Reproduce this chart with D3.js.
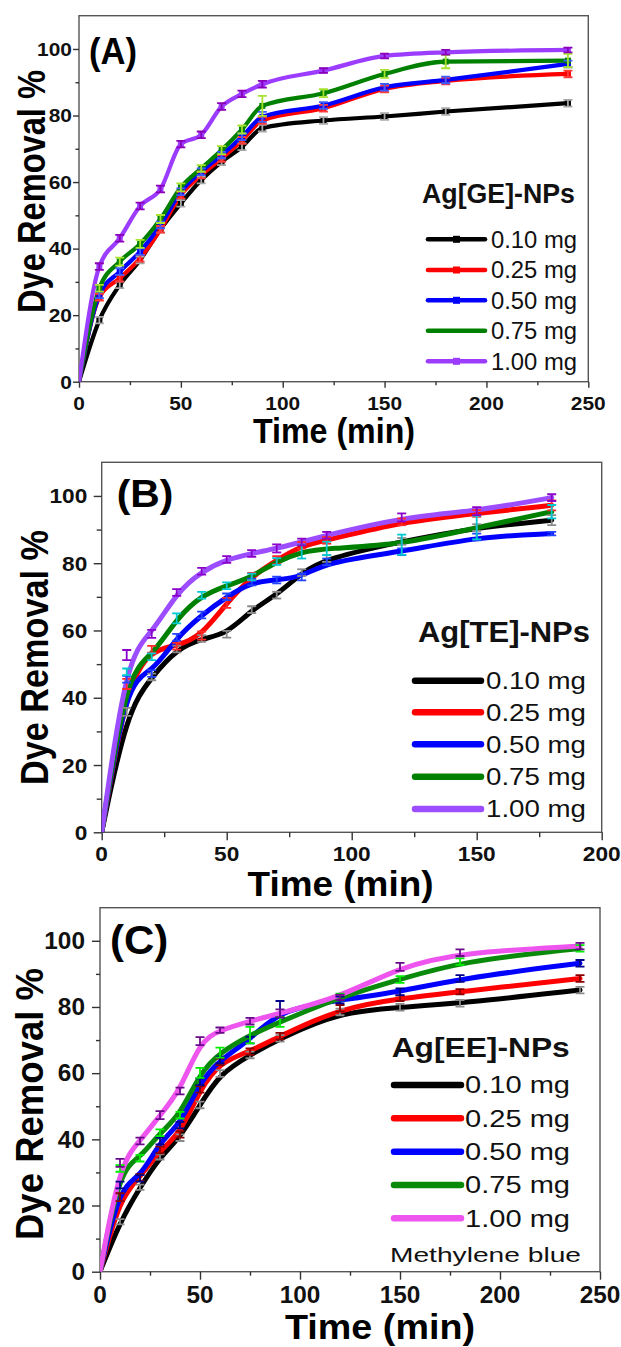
<!DOCTYPE html>
<html><head><meta charset="utf-8">
<script src="https://cdn.jsdelivr.net/npm/d3@7"></script>
<style>body{margin:0;background:#fff} svg{display:block} text{font-family:"Liberation Sans",Arial,sans-serif}</style>
</head><body><svg id="c" width="621" height="1347"></svg>
<script>
// ---------------- DATA ----------------
const seriesLabels = ["0.10 mg", "0.25 mg", "0.50 mg", "0.75 mg", "1.00 mg"];
const legendTitles = ["Ag[GE]-NPs", "Ag[TE]-NPs", "Ag[EE]-NPs"];
const panelLabels = ["(A)", "(B)", "(C)"];
const xTicksA = [0, 50, 100, 150, 200, 250];
const xTicksB = [0, 50, 100, 150, 200];
const xTicksC = [0, 50, 100, 150, 200, 250];
const yTicks = [0, 20, 40, 60, 80, 100];

// Panel A: Ag[GE]-NPs
const timeA = [0, 10, 20, 30, 40, 50, 60, 70, 80, 90, 120, 150, 180, 240];
const A010 = [0, 18.5, 29.1, 36.6, 45.8, 53.6, 60.6, 66.1, 70.6, 76.2, 78.5, 79.7, 81.2, 83.7];
const A025 = [0, 25.4, 31.1, 37.1, 45.8, 56.1, 62.1, 67.1, 72.5, 78.5, 82.2, 88.0, 90.4, 92.5];
const A050 = [0, 26.1, 33.1, 39.1, 47.1, 57.1, 63.1, 68.1, 73.6, 79.6, 83.0, 88.5, 90.7, 95.5];
const A075 = [0, 28.1, 36.1, 41.4, 48.9, 58.4, 64.1, 69.6, 75.8, 82.9, 86.7, 92.5, 96.2, 96.5];
const A100 = [0, 34.6, 43.1, 52.8, 57.9, 71.4, 74.2, 82.7, 86.5, 89.4, 93.5, 97.9, 99.0, 99.7];
const errA010 = [0, 1, 1, 1, 1, 1, 1, 1, 1, 1, 1, 1, 1, 1];
const errA025 = [0, 1, 1, 1, 1, 1, 1, 1, 1, 1, 1, 1, 1, 1];
const errA050 = [0, 1, 1, 1, 1, 1, 1, 1, 1, 1.5, 1, 1, 1, 1];
const errA075 = [0, 1, 1.2, 1.2, 1.2, 1.2, 1, 1.2, 1.2, 3, 1.2, 1.2, 2, 2];
const errA100 = [0, 1, 1, 1, 1, 1, 1, 1, 1, 1, 0.7, 0.7, 0.7, 0.7];

// Panel B: Ag[TE]-NPs
const timeB = [0, 10, 20, 30, 40, 50, 60, 70, 80, 90, 120, 150, 180];
const B010 = [0, 35.8, 46.2, 54.5, 57.6, 58.9, 66.2, 70.5, 77.2, 81.4, 86.5, 90.6, 92.8];
const B025 = [0, 44.1, 54.4, 55.3, 58.5, 68.2, 76.1, 80.9, 85.3, 86.8, 92.3, 94.8, 97.2];
const B050 = [0, 45.5, 47.2, 58.0, 64.6, 70.0, 74.4, 75.0, 75.9, 80.4, 83.4, 87.8, 88.8];
const B075 = [0, 47.7, 52.2, 63.6, 70.5, 73.3, 75.9, 80.5, 83.4, 84.4, 85.5, 90.6, 95.3];
const B100 = [0, 52.7, 59.0, 71.3, 77.6, 81.1, 82.9, 84.4, 86.3, 88.3, 93.6, 95.5, 99.5];
const errB010 = [0, 1.2, 1, 1, 1, 1, 1, 1, 1, 1, 1, 1, 1.5];
const errB025 = [0, 1.5, 1, 1, 1.2, 1.5, 1, 1.2, 1, 1, 1, 1, 1.5];
const errB050 = [0, 1, 1, 1, 1, 1, 1, 1, 1, 1, 1, 1, 0.5];
const errB075 = [0, 1, 1, 1.5, 1, 1, 1, 1, 2, 2, 3, 3.5, 2];
const errB100 = [0, 1.5, 1.2, 1, 1, 1, 1, 1.2, 1, 1, 1.2, 1.2, 1];

// Panel C: Ag[EE]-NPs
const timeC = [0, 10, 20, 30, 40, 50, 60, 75, 90, 120, 150, 180, 240];
const C010 = [0, 15.1, 25.5, 34.7, 40.5, 50.4, 59.9, 65.5, 70.5, 78.5, 79.9, 81.1, 85.1];
const C025 = [0, 22.5, 28.5, 36.8, 41.5, 55.1, 63.4, 66.5, 71.2, 79.6, 82.6, 84.6, 88.6];
const C050 = [0, 26.2, 28.2, 39.5, 44.3, 57.4, 64.0, 70.0, 79.3, 82.1, 84.6, 88.6, 93.2];
const C075 = [0, 31.2, 34.3, 42.0, 47.3, 60.1, 66.2, 71.5, 75.5, 83.0, 88.3, 93.7, 97.7];
const C100 = [0, 32.9, 39.5, 47.3, 54.6, 69.7, 73.0, 75.7, 78.1, 82.9, 92.1, 96.4, 98.4];
const errC010 = [0, 0.8, 0.8, 0.8, 1, 1, 1, 1, 1, 1, 1, 1, 1];
const errC025 = [0, 1.2, 1, 1, 1, 1, 1, 1, 1, 1, 0.8, 0.8, 1];
const errC050 = [0, 1, 1, 1, 1, 1, 1, 1, 2.5, 1, 1, 1, 1];
const errC075 = [0, 1, 1, 1, 1, 1.5, 1.5, 2.5, 1.5, 1, 1, 1, 1];
const errC100 = [0, 1.2, 1, 1.2, 1, 1.2, 0.8, 1, 1.2, 0.8, 1.2, 1, 1];

// ---------------- STYLE / LAYOUT ----------------
const svg = d3.select("#c");

function stretch(sel, sx) {
  sel.each(function () {
    const w = this.getComputedTextLength();
    this.setAttribute("textLength", w * sx);
    this.setAttribute("lengthAdjust", "spacingAndGlyphs");
  });
}
function fixLen(sel, L) {
  sel.attr("textLength", L).attr("lengthAdjust", "spacingAndGlyphs");
}

const panels = [
  {
    time: timeA, series: [A010, A025, A050, A075, A100], errs: [errA010, errA025, errA050, errA075, errA100],
    xDomain: [0, 250], xTicks: xTicksA, xRange: [79, 588.3], yRange: [381.7, 15.7],
    lineColors: ["#000000", "#ff0000", "#0000ff", "#008000", "#9b3cff"],
    errColors: ["#a8a8a8", "#ff3b3b", "#3d5cff", "#a6e22e", "#8a00b8"],
    curve: d3.curveMonotoneX, lineW: 4.2, legW: 4.6, markers: true,
    tickFont: 19, tickSx: 1.1, majorTick: 6, minorTick: 3.5, yLabEnd: 72, xLabBase: 409.5,
    xTitle: { cx: 334, base: 443, size: 35, len: 162 },
    yTitle: { bx: 45, cy: 191.5, size: 38, len: 243 },
    plabel: { x: 89, base: 64, size: 37, len: 48 },
    leg: { title: { x: 422, base: 203, size: 28, len: 153 }, rows: [239.3, 270, 300.3, 330.7, 361.3],
      x1: 428, x2: 485, tx: 491, tsize: 23, tlen: 86, marker: true }
  },
  {
    time: timeB, series: [B010, B025, B050, B075, B100], errs: [errB010, errB025, errB050, errB075, errB100],
    xDomain: [0, 200], xTicks: xTicksB, xRange: [101.7, 601.7], yRange: [832.3, 462.3],
    lineColors: ["#000000", "#ff0000", "#0000ff", "#008000", "#9b4dff"],
    errColors: ["#8a8a8a", "#ff2a2a", "#2244ff", "#00c8d0", "#8a00c8"],
    curve: d3.curveBasis, lineW: 5, legW: 6.5, markers: false,
    tickFont: 21, tickSx: 1.08, majorTick: 8, minorTick: 5, yLabEnd: 87.3, xLabBase: 861,
    xTitle: { cx: 340.5, base: 896, size: 35, len: 186 },
    yTitle: { bx: 48.3, cy: 657.5, size: 38, len: 255 },
    plabel: { x: 116.7, base: 507, size: 39, len: 56.7 },
    leg: { title: { x: 418, base: 642, size: 29, len: 172 }, rows: [680.7, 712.3, 744.3, 776.7, 809],
      x1: 415, x2: 481, tx: 486, tsize: 23, tlen: 100, marker: false }
  },
  {
    time: timeC, series: [C010, C025, C050, C075, C100], errs: [errC010, errC025, errC050, errC075, errC100],
    xDomain: [0, 250], xTicks: xTicksC, xRange: [100, 600], yRange: [1271.7, 907.7],
    lineColors: ["#000000", "#ff0000", "#0000ff", "#0a8a0a", "#ee55ee"],
    errColors: ["#8a8a8a", "#8b0000", "#00008b", "#00ee00", "#6a0a8a"],
    curve: d3.curveBasis, lineW: 5, legW: 6.5, markers: false,
    tickFont: 23, tickSx: 1.06, majorTick: 8, minorTick: 4, yLabEnd: 85, xLabBase: 1303.3,
    xTitle: { cx: 380, base: 1339, size: 35, len: 190 },
    yTitle: { bx: 43.3, cy: 1104, size: 38, len: 272 },
    plabel: { x: 110, base: 954, size: 41, len: 58.3 },
    leg: { title: { x: 391.7, base: 1056.7, size: 28, len: 178 }, rows: [1085, 1118.3, 1151.7, 1185, 1218.3],
      x1: 394, x2: 461, tx: 465, tsize: 23, tlen: 105, marker: false },
    note: { text: "Methylene blue", x: 390, base: 1261.7, size: 21, len: 191 }
  }
];

panels.forEach((p, pi) => {
  const x = d3.scaleLinear().domain(p.xDomain).range(p.xRange);
  const y = d3.scaleLinear().domain([0, 110]).range(p.yRange);
  const g = svg.append("g");
  const [x0, x1] = p.xRange, [yb, yt] = p.yRange;

  // frame
  g.append("rect").attr("x", x0).attr("y", yt).attr("width", x1 - x0).attr("height", yb - yt)
    .attr("fill", "none").attr("stroke", "#555").attr("stroke-width", 1.4);

  // minor ticks
  const minorX = d3.range(p.xDomain[0] + 25, p.xDomain[1], 50);
  const minorY = d3.range(10, 110, 20);
  g.append("g").attr("transform", `translate(0,${yb})`)
    .call(d3.axisBottom(x).tickValues(minorX).tickSize(p.minorTick).tickFormat(""));
  g.append("g").attr("transform", `translate(${x0},0)`)
    .call(d3.axisLeft(y).tickValues(minorY).tickSize(p.minorTick).tickFormat(""));
  // major ticks
  g.append("g").attr("transform", `translate(0,${yb})`)
    .call(d3.axisBottom(x).tickValues(p.xTicks).tickSize(p.majorTick).tickFormat(""));
  g.append("g").attr("transform", `translate(${x0},0)`)
    .call(d3.axisLeft(y).tickValues(yTicks).tickSize(p.majorTick).tickFormat(""));
  g.selectAll(".domain").remove();
  g.selectAll(".tick line").attr("stroke", "#333").attr("stroke-width", 1.4);

  // tick labels
  const xl = g.append("g").selectAll("text").data(p.xTicks).join("text")
    .attr("x", d => x(d)).attr("y", p.xLabBase).attr("text-anchor", "middle")
    .attr("font-size", p.tickFont).attr("font-weight", "bold").attr("fill", "#111")
    .text(d => d);
  stretch(xl, p.tickSx);
  const yl = g.append("g").selectAll("text").data(yTicks).join("text")
    .attr("x", p.yLabEnd).attr("y", d => y(d) + p.tickFont * 0.358).attr("text-anchor", "end")
    .attr("font-size", p.tickFont).attr("font-weight", "bold").attr("fill", "#111")
    .text(d => d);
  stretch(yl, p.tickSx);

  // axis titles
  const xt = g.append("text").attr("x", p.xTitle.cx).attr("y", p.xTitle.base).attr("text-anchor", "middle")
    .attr("font-size", p.xTitle.size).attr("font-weight", "bold").attr("fill", "#000").text("Time (min)");
  fixLen(xt, p.xTitle.len);
  const yt2 = g.append("text").attr("transform", `translate(${p.yTitle.bx},${p.yTitle.cy}) rotate(-90)`)
    .attr("text-anchor", "middle").attr("font-size", p.yTitle.size).attr("font-weight", "bold")
    .attr("fill", "#000").text("Dye Removal %");
  fixLen(yt2, p.yTitle.len);

  // panel label
  const pl = g.append("text").attr("x", p.plabel.x).attr("y", p.plabel.base)
    .attr("font-size", p.plabel.size).attr("font-weight", "bold").attr("fill", "#000").text(panelLabels[pi]);
  fixLen(pl, p.plabel.len);

  // lines
  const line = d3.line().x(d => x(d[0])).y(d => y(d[1])).curve(p.curve);
  const clip = "clip" + pi;
  svg.append("clipPath").attr("id", clip).append("rect")
    .attr("x", x0).attr("y", yt).attr("width", x1 - x0).attr("height", yb - yt);
  const lg = g.append("g").attr("clip-path", `url(#${clip})`);
  p.series.forEach((vals, si) => {
    const pts = p.time.map((t, i) => [t, vals[i]]);
    lg.append("path").attr("d", line(pts)).attr("fill", "none")
      .attr("stroke", p.lineColors[si]).attr("stroke-width", p.lineW)
      .attr("stroke-linejoin", "round").attr("stroke-linecap", "round");
  });
  // markers
  if (p.markers) {
    p.series.forEach((vals, si) => {
      lg.append("g").selectAll("rect").data(p.time.slice(1).map((t, i) => [t, vals[i + 1]])).join("rect")
        .attr("x", d => x(d[0]) - 3).attr("y", d => y(d[1]) - 3).attr("width", 6).attr("height", 6)
        .attr("fill", p.lineColors[si]);
    });
  }
  // error bars
  p.series.forEach((vals, si) => {
    const eg = lg.append("g").attr("stroke", p.errColors[si]).attr("stroke-width", 1.8).attr("fill", "none");
    p.time.forEach((t, i) => {
      const e = p.errs[si][i];
      if (!e) return;
      const cx = x(t), ya1 = y(vals[i] - e), ya2 = y(vals[i] + e);
      eg.append("line").attr("x1", cx).attr("x2", cx).attr("y1", ya1).attr("y2", ya2);
      eg.append("line").attr("x1", cx - 4.5).attr("x2", cx + 4.5).attr("y1", ya1).attr("y2", ya1);
      eg.append("line").attr("x1", cx - 4.5).attr("x2", cx + 4.5).attr("y1", ya2).attr("y2", ya2);
    });
  });

  // legend
  const L = p.leg;
  const lt = g.append("text").attr("x", L.title.x).attr("y", L.title.base)
    .attr("font-size", L.title.size).attr("font-weight", "bold").attr("fill", "#111").text(legendTitles[pi]);
  fixLen(lt, L.title.len);
  seriesLabels.forEach((lab, si) => {
    const ry = L.rows[si];
    g.append("line").attr("x1", L.x1).attr("x2", L.x2).attr("y1", ry).attr("y2", ry)
      .attr("stroke", p.lineColors[si]).attr("stroke-width", p.legW).attr("stroke-linecap", "round");
    if (L.marker && si !== 3) {
      g.append("rect").attr("x", (L.x1 + L.x2) / 2 - 3.5).attr("y", ry - 3.5).attr("width", 7).attr("height", 7)
        .attr("fill", p.lineColors[si]);
    }
    const tt = g.append("text").attr("x", L.tx).attr("y", ry + L.tsize * 0.36)
      .attr("font-size", L.tsize).attr("fill", "#111").text(lab);
    fixLen(tt, L.tlen);
  });
  if (p.note) {
    const nt = g.append("text").attr("x", p.note.x).attr("y", p.note.base)
      .attr("font-size", p.note.size).attr("fill", "#111").text(p.note.text);
    fixLen(nt, p.note.len);
  }
});
</script>
</body></html>
